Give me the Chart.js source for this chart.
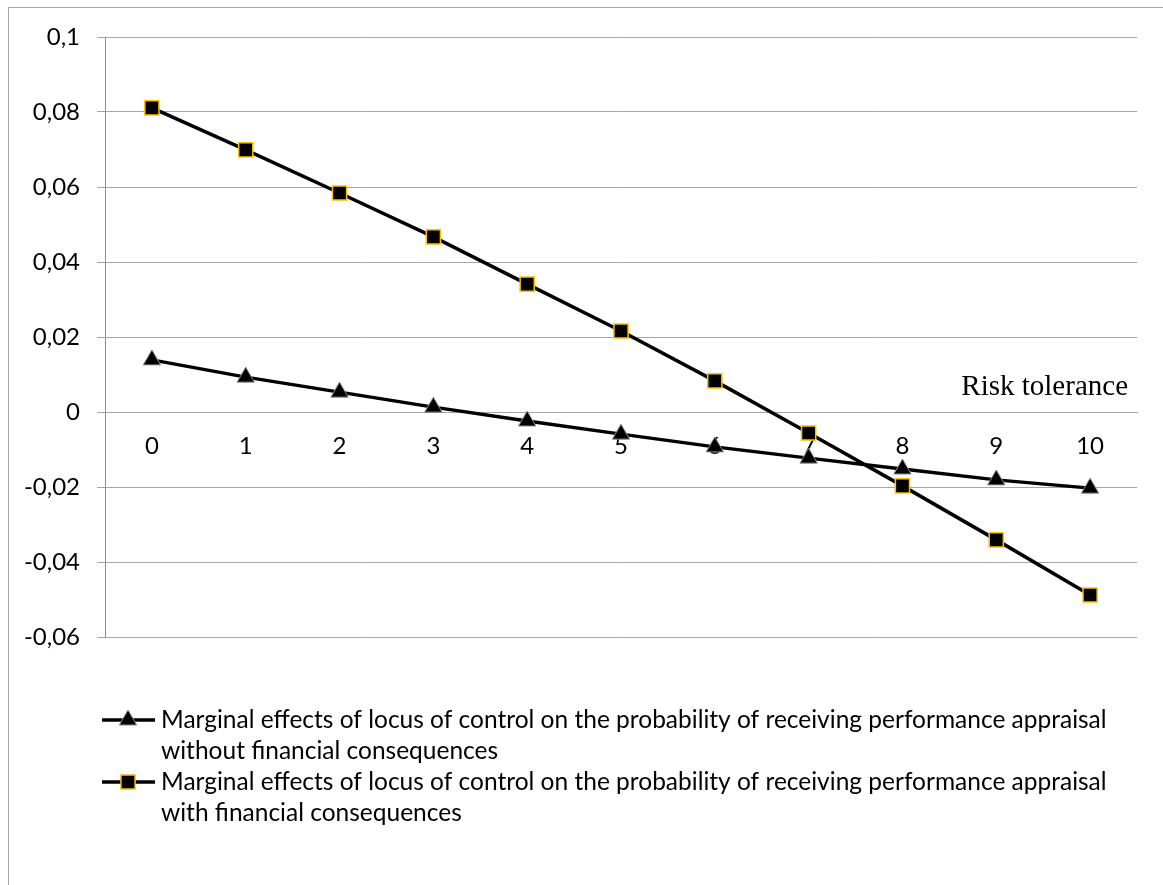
<!DOCTYPE html>
<html>
<head>
<meta charset="utf-8">
<script src="https://cdn.jsdelivr.net/npm/chart.js@4.4.0/dist/chart.umd.min.js"></script>
<style>
  html, body { margin: 0; padding: 0; background: #fff; }
  #wrap { width: 1163px; height: 885px; }
</style>
</head>
<body>
<div id="wrap"><canvas id="chart" width="1163" height="885"></canvas></div>
<script>
const riskTolerance = ["0", "1", "2", "3", "4", "5", "6", "7", "8", "9", "10"];
const withoutFinancial = [0.0139, 0.0093, 0.0053, 0.0013, -0.0024, -0.0059, -0.0093, -0.0123, -0.0152, -0.0181, -0.0203];
const withFinancial = [0.0811, 0.0699, 0.0584, 0.0467, 0.0341, 0.0216, 0.0083, -0.0056, -0.0197, -0.0341, -0.0488];
const seriesNames = [
  ["Marginal effects of locus of control on the probability of receiving performance appraisal", "without financial consequences"],
  ["Marginal effects of locus of control on the probability of receiving performance appraisal", "with financial consequences"]
];
const axisTitle = "Risk tolerance";

const gridGray = "#a6a6a6";
const uiFont = "Lato";

const framePlugin = {
  id: "frame",
  beforeDraw(chart) {
    const ctx = chart.ctx;
    ctx.save();
    ctx.strokeStyle = "#a6a6a6";
    ctx.lineWidth = 1;
    ctx.strokeRect(8.5, 7.5, 1300, 1000);
    ctx.restore();
  }
};

const extrasPlugin = {
  id: "extras",
  afterDraw(chart) {
    const ctx = chart.ctx;
    const area = chart.chartArea;
    const zeroY = chart.scales.y.getPixelForValue(0);
    ctx.save();
    // axis title
    ctx.fillStyle = "#000";
    ctx.font = "29px 'Liberation Serif'";
    ctx.textAlign = "right";
    ctx.textBaseline = "alphabetic";
    ctx.fillText(axisTitle, area.right - 9, zeroY - 17);

    // legend
    const lineH = 31;
    let y = 720;
    ctx.font = "24.5px " + uiFont;
    ctx.textAlign = "left";
    ctx.textBaseline = "middle";
    chart.data.datasets.forEach(ds => {
      ctx.strokeStyle = ds.borderColor;
      ctx.lineWidth = ds.borderWidth;
      ctx.beginPath();
      ctx.moveTo(102, y);
      ctx.lineTo(155, y);
      ctx.stroke();
      ctx.fillStyle = ds.pointBackgroundColor;
      ctx.strokeStyle = ds.pointBorderColor;
      ctx.lineWidth = ds.pointBorderWidth;
      Chart.helpers.drawPoint(ctx, { pointStyle: ds.pointStyle, radius: ds.pointRadius, borderWidth: ds.pointBorderWidth, rotation: 0 }, 128, y);
      ctx.fillStyle = "#000";
      ds.label.forEach((line, i) => ctx.fillText(line, 161, y + i * lineH));
      y += ds.label.length * lineH;
    });
    ctx.restore();
  }
};

new Chart(document.getElementById("chart"), {
  type: "line",
  data: {
    labels: riskTolerance,
    datasets: [
      {
        label: seriesNames[0],
        data: withoutFinancial,
        borderColor: "#000",
        borderWidth: 3.5,
        pointStyle: "triangle",
        pointRadius: 10,
        pointHoverRadius: 10,
        pointBackgroundColor: "#000",
        pointBorderColor: "#8c8c8c",
        pointBorderWidth: 1,
        tension: 0
      },
      {
        label: seriesNames[1],
        data: withFinancial,
        borderColor: "#000",
        borderWidth: 3.5,
        pointStyle: "rect",
        pointRadius: 10,
        pointHoverRadius: 10,
        pointBackgroundColor: "#000",
        pointBorderColor: "#ffc000",
        pointBorderWidth: 1.5,
        tension: 0
      }
    ]
  },
  options: {
    responsive: false,
    animation: false,
    layout: { padding: { left: 0, top: 37, right: 26, bottom: 248 } },
    plugins: {
      legend: { display: false },
      tooltip: { enabled: false }
    },
    scales: {
      x: {
        type: "category",
        offset: true,
        position: { y: 0 },
        grid: { display: false, drawTicks: false },
        border: { display: true, color: gridGray, width: 1 },
        ticks: { color: "#000", font: { family: uiFont, size: 24 }, padding: 20, maxRotation: 0, autoSkip: false },
        afterFit(scale) { scale.height = 0; }
      },
      y: {
        min: -0.06,
        max: 0.1,
        grid: { color: gridGray, tickLength: 8, drawTicks: true },
        border: { display: true, color: "#8c8c8c", width: 1 },
        ticks: {
          stepSize: 0.02,
          color: "#000",
          padding: 17,
          font: { family: uiFont, size: 24 },
          callback: v => String(Number(v.toFixed(2))).replace(".", ",")
        },
        afterFit(scale) { scale.width = 105; }
      }
    }
  },
  plugins: [framePlugin, extrasPlugin]
});
</script>
</body>
</html>
